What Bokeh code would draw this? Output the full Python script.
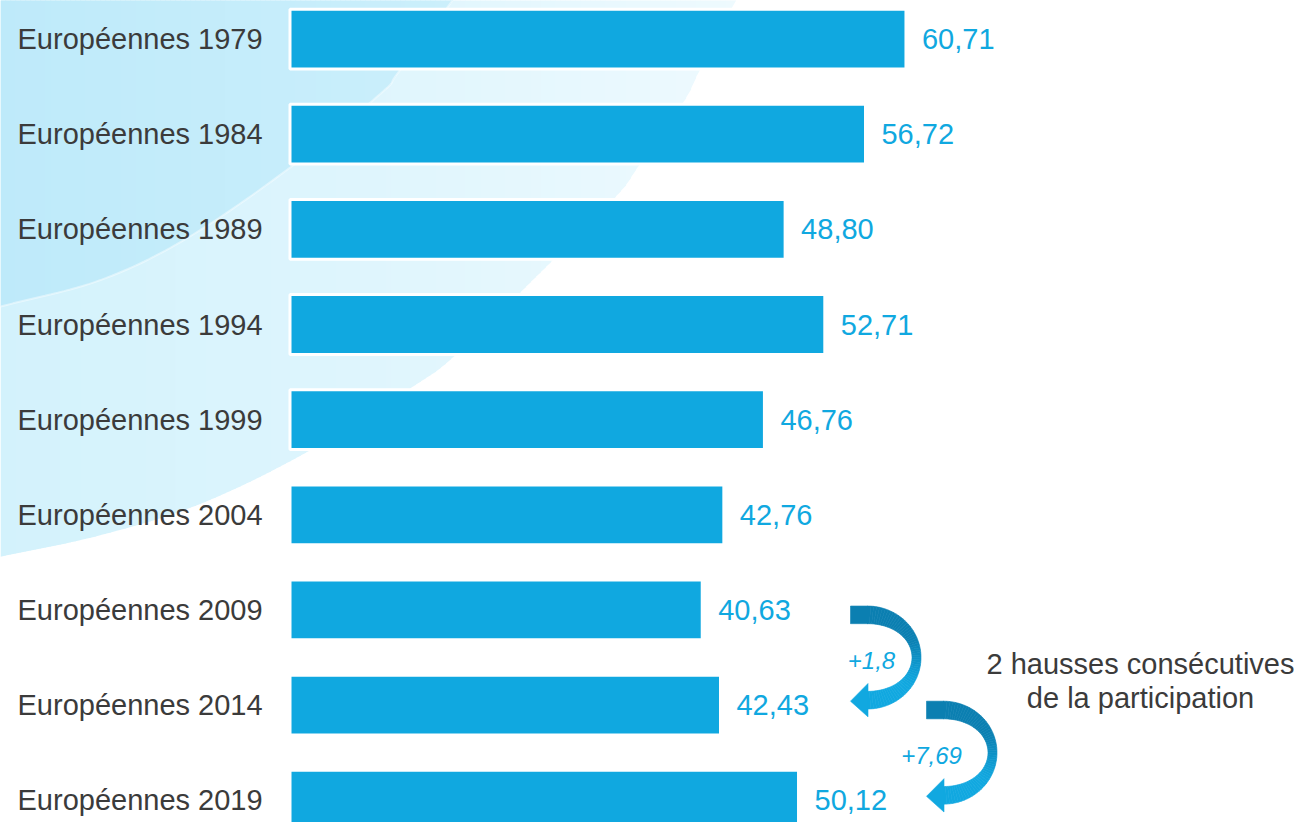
import numpy as np
from bokeh.plotting import figure
from bokeh.models import Range1d, ColumnDataSource
from bokeh.core.properties import value
from bokeh.embed import file_html
from bokeh.resources import INLINE

# ---------------- data ----------------
categories = ["Européennes 1979", "Européennes 1984", "Européennes 1989",
              "Européennes 1994", "Européennes 1999", "Européennes 2004",
              "Européennes 2009", "Européennes 2014", "Européennes 2019"]
turnout = [60.71, 56.72, 48.80, 52.71, 46.76, 42.76, 40.63, 42.43, 50.12]
delta_labels = ["+1,8", "+7,69"]
delta_from = [6, 7]          # arrow goes from this bar to the next one
note_lines = ["2 hausses consécutives", "de la participation"]

# ---------------- styling / layout ----------------
BLUE = "#10a8e0"
DARK_BLUE = (11, 127, 177)
LIGHT_BLUE = (17, 168, 224)
TEXT = "#3b3b3b"
FONT = "Liberation Sans"

W, H = 1294, 823
REF_H = 839                 # reference height, squeezed into H
X0, K = 289.5, 10.146       # pixel x of value 0, px per percentage point
Y0, DY = 39.3, 97.0         # pixel y of first bar centre, px per bar


def sx(px):
    return (np.asarray(px, dtype=float) - X0) / K


def sy(py):
    return (np.asarray(py, dtype=float) - Y0) / DY


p = figure(width=W, height=H,
           x_range=Range1d(float(sx(0)), float(sx(W))),
           y_range=Range1d(float(sy(REF_H)), float(sy(0))),
           output_backend="svg", toolbar_location=None, min_border=0)
p.axis.visible = False
p.grid.visible = False
p.outline_line_color = None
p.background_fill_color = "white"
p.border_fill_color = "white"


def lerp_col(stops, x):
    xs = [s[0] for s in stops]
    r = np.interp(x, xs, [s[1][0] for s in stops])
    g = np.interp(x, xs, [s[1][1] for s in stops])
    b = np.interp(x, xs, [s[1][2] for s in stops])
    return "#%02x%02x%02x" % (int(round(r)), int(round(g)), int(round(b)))


def catmull_rom(pts, n=16):
    pts = np.asarray(pts, dtype=float)
    ext = np.vstack([2 * pts[0] - pts[1], pts, 2 * pts[-1] - pts[-2]])
    out = []
    for i in range(1, len(ext) - 2):
        p0, p1, p2, p3 = ext[i - 1], ext[i], ext[i + 1], ext[i + 2]
        for t in np.linspace(0, 1, n, endpoint=False):
            t2, t3 = t * t, t * t * t
            out.append(0.5 * ((2 * p1) + (-p0 + p2) * t
                              + (2 * p0 - 5 * p1 + 4 * p2 - p3) * t2
                              + (-p0 + 3 * p1 - 3 * p2 + p3) * t3))
    out.append(pts[-1])
    return np.array(out)


# ---------------- background swoosh ----------------
def swoosh(pts, stops, step=5):
    curve = catmull_rom(pts)
    order = np.argsort(curve[:, 0])
    bx, by = curve[order, 0], curve[order, 1]
    xs_all, ys_all, cols = [], [], []
    edges = np.arange(0, bx[-1] + step, step)
    edges[-1] = min(edges[-1], bx[-1])
    for a, b in zip(edges[:-1], edges[1:]):
        fa = np.interp(a, bx, by)
        fb = np.interp(b, bx, by)
        xs_all.append(list(sx([a, b + 0.6, b + 0.6, a])))
        ys_all.append(list(sy([-5, -5, fb, fa])))
        cols.append(lerp_col(stops, (a + b) / 2))
    p.patches(xs_all, ys_all, fill_color=cols, line_color=None)
    return bx, by


outer_pts = [(0, 567), (100, 545), (200, 513), (307, 460), (413, 393),
             (453, 363), (530, 287), (615, 200), (637, 170), (683, 103),
             (697, 75), (735, 0)]
inner_pts = [(0, 312), (100, 285), (187, 242), (290, 170), (380, 95),
             (398, 73), (452, 0)]
swoosh(outer_pts, [(0, (211, 242, 252)), (350, (222, 245, 253)),
                   (735, (238, 250, 254))])
ix, iy = swoosh(inner_pts, [(0, (190, 234, 250)), (452, (203, 239, 251))])
p.line(sx(ix), sy(iy), line_color="white", line_alpha=0.45, line_width=2)

# ---------------- bars ----------------
idx = list(range(len(categories)))
src = ColumnDataSource(dict(
    idx=idx, cat=categories, val=turnout,
    lbl=[f"{v:.2f}".replace(".", ",") for v in turnout]))

p.hbar(y="idx", left=0, right="val", height=61 / DY, source=src,
       fill_color=BLUE, line_color="white", line_width=3)

p.text(x=float(sx(17)), y="idx", text="cat", source=src,
       text_font=value(FONT), text_font_size="29px", text_color=TEXT,
       text_align="left", text_baseline="middle")

p.text(x="val", y="idx", text="lbl", source=src, x_offset=16,
       text_font=value(FONT), text_font_size="29px", text_color=BLUE,
       text_align="left", text_baseline="middle")


# ---------------- curved arrows ----------------
def curved_arrow(x_start, cx, cy, rx, ry):
    xs_all, ys_all, cols = [], [], []

    def thick(th):
        return 9 + 9 * np.sin(th) ** 2

    t0 = thick(np.pi / 2)
    xs_all.append([x_start, cx + 0.5, cx + 0.5, x_start])
    ys_all.append([cy - ry - t0 / 2, cy - ry - t0 / 2,
                   cy - ry + t0 / 2, cy - ry + t0 / 2])
    cols.append(lerp_col([(0, DARK_BLUE), (1, LIGHT_BLUE)], 0))

    ths = np.linspace(np.pi / 2, -np.pi / 2, 61)
    for a, b in zip(ths[:-1], ths[1:]):
        ta, tb = thick(a), thick(b)
        xo = [cx + (rx + ta / 2) * np.cos(a), cx + (rx + tb / 2) * np.cos(b)]
        yo = [cy - (ry + ta / 2) * np.sin(a), cy - (ry + tb / 2) * np.sin(b)]
        xi = [cx + (rx - tb / 2) * np.cos(b), cx + (rx - ta / 2) * np.cos(a)]
        yi = [cy - (ry - tb / 2) * np.sin(b), cy - (ry - ta / 2) * np.sin(a)]
        xs_all.append(xo + xi)
        ys_all.append(yo + yi)
        s = (np.pi / 2 - (a + b) / 2) / np.pi
        m = np.clip((s - 0.3) / 0.45, 0, 1)
        m = m * m * (3 - 2 * m)
        cols.append(lerp_col([(0, DARK_BLUE), (1, LIGHT_BLUE)], m))

    hy = cy + ry
    xs_all.append([cx + 0.5, cx + 0.5, x_start])
    ys_all.append([hy - 17, hy + 17, hy + 1])
    cols.append(lerp_col([(0, DARK_BLUE), (1, LIGHT_BLUE)], 1))

    p.patches([list(sx(x)) for x in xs_all], [list(sy(y)) for y in ys_all],
              fill_color=cols, line_color=cols, line_width=0.6)


arrow_start_x = [850, 926]
label_dx = [21, 5]
for k, i in enumerate(delta_from):
    ya = Y0 + DY * i
    yb = Y0 + DY * (i + 1)
    cy = (ya + yb) / 2
    x_start = arrow_start_x[k]
    curved_arrow(x_start, x_start + 17, cy, 49, 43.5)
    p.text(x=[float(sx(x_start + label_dx[k]))], y=[float(sy(cy + 3))],
           text=[delta_labels[k]], text_font=value(FONT),
           text_font_size="24px", text_font_style="italic",
           text_color=BLUE, text_align="center", text_baseline="middle")

p.text(x=[float(sx(1140))] * 2, y=list(sy([676, 711])), text=note_lines,
       text_font=value(FONT), text_font_size="29px", text_color=TEXT,
       text_align="center", text_baseline="middle")

open("out.html", "w").write(file_html(p, INLINE))
